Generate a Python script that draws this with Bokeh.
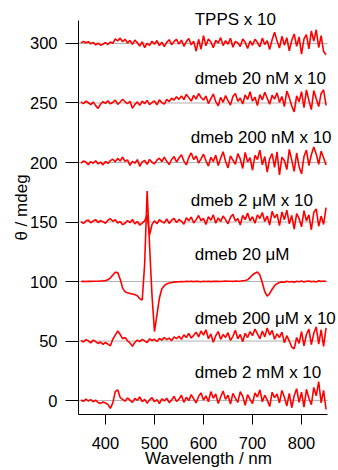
from bokeh.plotting import figure
from bokeh.models import FixedTicker, Label, ColumnDataSource
from bokeh.embed import file_html
from bokeh.resources import INLINE

# ---------------- data ----------------
wavelength = list(range(350, 851, 5))  # nm, 101 points

offsets = [300, 250, 200, 150, 100, 50, 0]
names = ["TPPS x 10", "dmeb 20 nM x 10", "dmeb 200 nM x 10", "dmeb 2 \u03bcM x 10",
         "dmeb 20 \u03bcM", "dmeb 200 \u03bcM x 10", "dmeb 2 mM x 10"]

tpps_x10 = [0.5, 1.8, 0.6, 1.5, -0.4, 0.9, -1.2, 0.3, -1.5, -0.6,
            0.8, -0.9, 1.2, 0.1, 3.8, 2.2, 4.5, 1.4, 3.6, 0.4,
            2.6, -0.8, 2.9, 0.6, -2.2, 1.5, -3.5, 0.2, -1.6, 1.9,
            -0.7, 2.5, -1.8, 1.1, -2.6, 0.9, 3.2, -1.0, 1.7, 3.4,
            -0.5, 2.8, -2.4, 1.6, 4.2, -1.2, 2.0, -6.5, 3.5, -4.8,
            6.5, -2.0, 3.8, 1.2, -3.5, 2.6, 0.4, 4.9, -1.8, 2.3,
            -0.6, 4.4, -3.2, 1.8, 0.5, -2.5, 3.8, 1.0, -4.2, 2.1,
            -1.5, 3.6, 0.8, -2.8, 4.5, -0.9, 2.4, -5.0, 3.1, 9.5,
            2.2, -3.8, 6.0, -1.4, 4.8, -6.2, 2.5, 8.0, -2.4, 5.5,
            -9.0, 3.8, 7.5, -4.5, 10.5, 2.0, 11.5, -3.5, 6.5, -6.8,
            -9.5]

dmeb_20nM_x10 = [0.8, -0.5, 1.6, 0.2, -1.4, 0.9, -2.2, -4.5, -1.0, 1.2,
                 -0.3, 1.8, -0.8, 0.6, 2.4, -1.1, 0.8, 3.2, 1.0, -0.6,
                 1.5, -4.5, -1.2, 0.9, -2.0, 1.6, -0.5, 2.2, -1.4, 0.4,
                 1.8, -1.6, 2.6, 0.3, -0.9, 3.0, 1.2, 4.0, 2.5, 5.2,
                 3.0, 6.0, 2.8, 7.2, 4.5, 1.6, 6.4, 3.2, 8.0, 4.6,
                 2.5, 5.8, -0.5, 3.6, 7.5, 1.2, -2.5, 4.8, 0.6, 6.2,
                 2.0, -1.8, 5.5, 8.0, 1.5, 4.2, -0.8, 6.8, 3.0, 9.5,
                 1.5, 5.0, -2.2, 7.0, 2.6, 9.0, 4.0, -1.0, 6.5, 3.2,
                 8.5, 0.5, 5.5, -3.0, 10.0, 4.5, -2.5, -7.5, 6.0, 1.0,
                 9.5, -4.0, 11.0, 2.0, -5.5, 10.5, 3.5, -3.0, 8.0, 11.0,
                 -2.0]

dmeb_200nM_x10 = [-0.5, 1.2, 0.4, -1.8, 0.8, -0.6, 1.5, -1.2, 0.3, -2.0,
                  0.9, -0.8, 1.6, 2.8, 0.6, 3.5, 1.2, 4.6, 0.9, 2.2,
                  -2.4, 1.0, -0.6, 2.4, -3.2, 0.5, 1.8, -1.5, 2.6, 0.2,
                  -1.2, 2.0, 3.6, 0.8, 4.5, 1.0, -1.8, 2.5, 5.0, 0.4,
                  3.8, 6.5, 1.2, -2.0, 4.2, 8.0, 2.5, 5.5, -0.5, 3.0,
                  7.0, 1.5, -3.0, 4.5, 0.8, 6.2, -2.5, 3.5, 9.0, 1.0,
                  -4.5, 5.5, 2.0, -1.5, 7.5, 3.0, -5.0, 8.5, 0.5, 4.0,
                  -6.5, 6.0, 2.5, 10.5, -2.0, 5.0, -8.0, 3.0, 7.5, -4.0,
                  9.0, -10.5, 4.5, 1.5, -6.0, 11.0, 2.0, -7.5, 8.0, -3.5,
                  -9.5, 5.0, 10.5, -2.5, 6.5, 13.0, 7.0, -1.5, 9.5, 4.0,
                  -2.0]

dmeb_2uM_x10 = [0.4, -1.2, 0.8, 1.6, -0.6, 0.9, 2.0, -0.4, 1.2, 0.3,
                -1.0, 1.5, 2.8, 0.6, 1.9, -0.8, 0.5, -2.2, -1.0, 1.3,
                -0.6, 2.2, -1.5, 0.4, -2.5, -0.9, 1.1, 6.0, -11.0, -2.0,
                1.0, -1.5, 2.0, 0.3, -0.8, 2.6, -1.2, 1.5, 3.0, -0.5,
                2.2, 0.6, -1.8, 3.5, 1.0, 4.2, -0.8, 2.0, 5.5, 1.2,
                3.0, -2.0, 4.5, 1.5, 6.0, -1.0, 3.5, 0.5, 5.0, 2.0,
                -1.5, 4.0, 6.5, 0.8, 3.0, -2.5, 5.5, 2.0, 7.5, 1.0,
                4.5, -1.0, 6.0, 3.0, 8.0, 0.5, 5.0, -2.5, 9.0, 3.5,
                6.5, -3.0, 8.5, 2.0, 10.0, -1.5, 5.5, -6.0, 7.0, 3.0,
                -4.0, 9.5, 1.0, 6.0, -6.5, 8.0, 11.0, -3.5, 5.0, -2.0,
                12.0]

dmeb_20uM = [0.0, 0.1, 0.0, 0.2, 0.1, 0.2, 0.3, 0.3, 0.5, 0.6,
             0.8, 1.5, 3.0, 5.5, 7.8, 7.5, 2.0, -5.5, -8.5, -9.5,
             -10.0, -10.5, -11.0, -12.0, -14.5, -15.5, 15.0, 76.0, 30.0, -12.0,
             -42.0, -28.0, -14.0, -6.0, -3.5, -2.0, -1.2, -0.8, -0.5, -0.3,
             -0.2, 0.1, -0.2, 0.2, 0.0, 0.3, -0.1, 0.2, 0.1, -0.2,
             0.2, 0.0, 0.3, -0.1, 0.2, 0.1, 0.3, 0.0, 0.2, 0.4,
             0.2, 0.3, 0.1, 0.4, 0.2, 0.3, 0.6, 0.9, 1.5, 3.5,
             5.5, 7.0, 8.0, 5.5, -1.0, -8.5, -12.3, -10.0, -6.5, -3.5,
             -1.8, -0.8, -0.3, -0.6, 0.2, -0.4, 0.1, -0.5, 0.3, -0.2,
             0.4, -0.3, 0.2, 0.5, -0.2, 0.3, -0.4, 0.6, 0.0, 0.4,
             0.1]

dmeb_200uM_x10 = [0.6, -0.8, 1.2, 0.2, -1.5, 0.8, -0.4, -2.0, -0.8, -2.8,
                  -1.2, -2.5, -4.0, 1.5, 5.0, 8.5, 5.5, 2.0, 3.0, 0.2,
                  -1.5, -4.5, -1.0, 0.8, -0.5, 1.4, 0.2, -1.2, 1.8, 0.5,
                  1.5, -0.4, 2.2, 0.8, 3.0, 1.2, 2.5, 0.4, 3.5, 2.0,
                  4.0, 1.5, 5.2, 3.0, 6.5, 2.5, 4.8, 7.5, 3.5, 8.5,
                  5.0, 9.5, 2.0, 6.0, -1.0, 4.5, 8.0, 1.5, 5.5, 3.0,
                  7.0, 0.5, 4.0, 9.0, 2.0, 5.5, -0.5, 6.5, 3.0, 8.0,
                  4.5, 10.0, 6.0, 2.0, 8.5, 3.5, 11.0, 5.0, 9.0, 1.5,
                  6.0, 3.0, 7.5, -1.5, 4.5, 0.0, -5.0, -6.5, 3.0, -2.0,
                  8.0, -4.0, 5.5, 10.0, -3.0, 6.5, 12.0, -2.5, 9.5, -4.5,
                  11.0]

dmeb_2mM_x10 = [0.5, -0.6, 1.2, -0.3, 0.8, -1.0, 0.4, -1.6, -2.4, -1.2,
                -2.0, -3.2, -6.5, -2.0, 7.5, 9.0, 2.5, 1.0, -0.5, 2.2,
                0.4, -1.5, 1.8, 0.2, 3.0, -0.8, 1.0, -2.2, 0.6, 2.5,
                -1.0, 0.8, -2.5, 1.5, -0.3, 2.0, -1.8, 0.5, 3.5, -0.8,
                1.2, 4.5, -1.5, 2.8, 0.0, 5.0, 1.5, -2.0, 3.5, 6.5,
                0.5, 4.0, -1.0, 7.5, 2.0, 5.5, -2.5, 3.0, 8.0, 1.0,
                4.5, -3.0, 6.0, 2.0, -1.5, 7.5, 3.5, -4.0, 5.0, 1.0,
                -2.5, 6.5, 3.0, 9.0, -1.0, 4.5, 0.5, -5.0, 7.0, 2.5,
                5.5, -2.0, 8.5, 3.0, -4.5, 6.0, -6.0, 4.0, 10.0, -1.5,
                7.0, -5.5, 9.5, 2.0, -3.5, 11.0, 4.0, 16.0, -2.0, 8.5,
                -7.5]

traces = [tpps_x10, dmeb_20nM_x10, dmeb_200nM_x10, dmeb_2uM_x10,
          dmeb_20uM, dmeb_200uM_x10, dmeb_2mM_x10]

x_ticks = [400, 500, 600, 700, 800]
y_ticks = [0, 50, 100, 150, 200, 250, 300]

# axis extents (data units) and the visible range (extra room for labels)
x_axis_lo, x_axis_hi = 345, 853
y_axis_lo, y_axis_hi = -11.7, 319.3
x_view_hi = 875.4
y_view_hi = 336.1

# label anchor positions (layout, in data units)
label_pos = [(582, 320.5), (582, 270.7), (574, 220.8), (574, 168.5),
             (582, 122.3), (582, 68.7), (582, 23.5)]

FONT = "Liberation Sans"

p = figure(width=338, height=470, output_backend="svg", toolbar_location=None,
           x_range=(x_axis_lo, x_view_hi), y_range=(y_axis_lo, y_view_hi),
           min_border_left=78, min_border_right=0, min_border_top=0, min_border_bottom=55)
p.outline_line_color = None
p.grid.visible = False
p.background_fill_color = "white"
p.border_fill_color = "white"

# zero lines of each trace
p.segment(x0=[x_axis_lo] * len(offsets), x1=[x_axis_hi] * len(offsets),
          y0=offsets, y1=offsets, line_color="#b0b0b0", line_width=1)

for off, tr in zip(offsets, traces):
    src = ColumnDataSource(dict(x=wavelength, y=[off + v for v in tr]))
    p.line("x", "y", source=src, line_color="#ff0000", line_width=1.6)

for name, (lx, ly) in zip(names, label_pos):
    p.add_layout(Label(x=lx, y=ly, text=name, text_font=FONT, text_font_size="17px",
                       text_align="left", text_baseline="middle", text_color="black"))

for ax in (p.xaxis[0], p.yaxis[0]):
    ax.axis_line_color = "black"
    ax.major_tick_line_color = "black"
    ax.major_tick_in = 0
    ax.minor_tick_in = 0
    ax.minor_tick_out = 0
    ax.major_label_text_font = FONT
    ax.major_label_text_font_size = "16.5px"
    ax.major_label_text_color = "black"
    ax.axis_label_text_font = FONT
    ax.axis_label_text_font_size = "17px"
    ax.axis_label_text_font_style = "normal"
    ax.axis_label_text_color = "black"

p.xaxis[0].bounds = (x_axis_lo, x_axis_hi)
p.yaxis[0].bounds = (y_axis_lo, y_axis_hi)
p.xaxis[0].ticker = FixedTicker(ticks=x_ticks)
p.yaxis[0].ticker = FixedTicker(ticks=y_ticks)
p.xaxis[0].major_tick_out = 10
p.yaxis[0].major_tick_out = 13
p.xaxis[0].major_label_standoff = 12
p.yaxis[0].major_label_standoff = 8
p.xaxis[0].axis_label = "Wavelength / nm"
p.yaxis[0].axis_label = "\u03b8 / mdeg"
p.xaxis[0].axis_label_standoff = -3
p.yaxis[0].axis_label_standoff = -4

open("out.html", "w").write(file_html(p, INLINE))
